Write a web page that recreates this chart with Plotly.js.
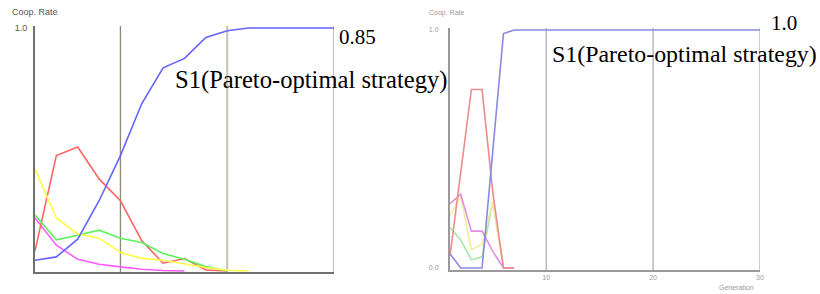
<!DOCTYPE html>
<html>
<head>
<meta charset="utf-8">
<script src="https://cdn.plot.ly/plotly-3.0.1.min.js"></script>
<style>html,body{margin:0;padding:0;background:#fff;}#chart{width:820px;height:294px;}</style>
</head>
<body>
<div id="chart"></div>
<script>
// ---- Left panel data (every 2 generations) ----
var gensLeft = [2,4,6,8,10,12,14,16,18,20,22,24,26,28,30];
var blueLeft    = [0.044,0.058,0.131,0.289,0.475,0.689,0.836,0.875,0.961,0.989,1.0,1.0,1.0,1.0,1.0];
var redLeft     = [0.083,0.475,0.510,0.379,0.289,0.124,0.032,0.051,0.004,0.0,null,null,null,null,null];
var yellowLeft  = [0.420,0.218,0.152,0.135,0.076,0.052,0.044,0.028,0.014,0.003,0.0,null,null,null,null];
var greenLeft   = [0.230,0.128,0.147,0.168,0.135,0.117,0.072,0.048,0.018,0.0,null,null,null,null,null];
var magentaLeft = [0.218,0.106,0.048,0.028,0.017,0.007,0.002,0.0,null,null,null,null,null,null,null];

// ---- Right panel data (every generation) ----
var gensRight = [];
for (var g = 1; g <= 30; g++) gensRight.push(g);
var blueRight    = [0.06,0.0,0.0,0.0,0.49,0.985,1,1,1,1,1,1,1,1,1,1,1,1,1,1,1,1,1,1,1,1,1,1,1,1];
var redRight     = [0.05,0.40,0.75,0.75,0.32,0.0,0.0].concat(Array(23).fill(null));
var magentaRight = [0.27,0.31,0.155,0.155,0.07,0.0,0.0].concat(Array(23).fill(null));
var yellowRight  = [0.22,0.30,0.076,0.10,0.28,0.0,0.0].concat(Array(23).fill(null));
var greenRight   = [0.17,0.118,0.034,0.047,0.28,0.0,0.0].concat(Array(23).fill(null));

// tick labels / texts
var yTickLeft = ['1.0'];
var yTickRight = ['0.0','1.0'];
var xTickRight = ['10','20','30'];
var yLabel = 'Coop. Rate';
var xLabel = 'Generation';
var finalLeft = '0.85';
var finalRight = '1.0';
var strategyLabel = 'S1(Pareto-optimal strategy)';

var W = 820, H = 294;
function px(x){ return x / W; }
function py(y){ return (H - y) / H; }

var colL = {blue:'#6464ff', red:'#ff6464', yellow:'#ffff44', green:'#5cf25c', magenta:'#ff5cff'};
var colR = {blue:'#8a8ae6', red:'#ec8c8c', yellow:'#f2eea0', green:'#a6e6a6', magenta:'#e68ce6'};

function tr(x, y, c, xa, ya){
  return {x:x, y:y, type:'scatter', mode:'lines', line:{color:c, width:1.6}, xaxis:xa, yaxis:ya, hoverinfo:'skip', connectgaps:false};
}

var data = [
  tr(gensLeft, magentaLeft, colL.magenta, 'x', 'y'),
  tr(gensLeft, redLeft, colL.red, 'x', 'y'),
  tr(gensLeft, greenLeft, colL.green, 'x', 'y'),
  tr(gensLeft, yellowLeft, colL.yellow, 'x', 'y'),
  tr(gensLeft, blueLeft, colL.blue, 'x', 'y'),
  tr(gensRight, greenRight, colR.green, 'x2', 'y2'),
  tr(gensRight, yellowRight, colR.yellow, 'x2', 'y2'),
  tr(gensRight, magentaRight, colR.magenta, 'x2', 'y2'),
  tr(gensRight, redRight, colR.red, 'x2', 'y2'),
  tr(gensRight, blueRight, colR.blue, 'x2', 'y2')
];

// gridlines from tick values
var gridLeft = [10,20,30];
var gridLeftCol = ['#8c8874','#c6c2b4','#c6c2b4'];
var gridLeftW = [1.3,2,2];
var gridRight = [10,20,30];
var shapes = [];
gridLeft.forEach(function(v,i){
  shapes.push({type:'line', xref:'x', yref:'y domain', x0:v, x1:v, y0:0, y1:1, line:{color:gridLeftCol[i], width:gridLeftW[i]}, layer:'below'});
});
gridRight.forEach(function(v){
  shapes.push({type:'line', xref:'x2', yref:'y2 domain', x0:v, x1:v, y0:0, y1:1, line:{color:'#aaaab4', width:1.2}, layer:'below'});
});

var small = {family:'Liberation Sans, Arial, sans-serif', size:9, color:'#555'};
var smallR = {family:'Liberation Sans, Arial, sans-serif', size:7, color:'#9a9a9a'};
var bigL = {family:'Liberation Serif, Times New Roman, serif', size:24.6, color:'#000'};
var bigR = {family:'Liberation Serif, Times New Roman, serif', size:23.9, color:'#000'};
var bigNum = {family:'Liberation Serif, Times New Roman, serif', size:21, color:'#000'};

var layout = {
  width:W, height:H, margin:{l:0,r:0,t:0,b:0},
  paper_bgcolor:'#fff', plot_bgcolor:'rgba(0,0,0,0)',
  showlegend:false,
  xaxis:{domain:[px(35), px(334)], range:[2,30], showgrid:false, zeroline:false, showline:true, linecolor:'#707070', linewidth:2, tickvals:[], showticklabels:false, layer:'below traces', fixedrange:true},
  yaxis:{domain:[0.075, 0.9114], range:[-0.004,1.008], showgrid:false, zeroline:false, showline:true, linecolor:'#707070', linewidth:2, tickvals:[1], ticktext:yTickLeft, tickfont:small, ticks:'', ticklabelstandoff:4, layer:'below traces', fixedrange:true},
  xaxis2:{domain:[px(450), px(760)], range:[1,30], anchor:'y2', showgrid:false, zeroline:false, showline:true, linecolor:'#9a9a9a', linewidth:2, tickvals:gridRight, ticktext:xTickRight, tickfont:smallR, ticks:'', layer:'below traces', fixedrange:true},
  yaxis2:{domain:[0.082, 0.9044], range:[-0.008,1.008], anchor:'x2', showgrid:false, zeroline:false, showline:true, linecolor:'#9a9a9a', linewidth:2, tickvals:[0,1], ticktext:yTickRight, tickfont:smallR, ticks:'', ticklabelstandoff:8, layer:'below traces', fixedrange:true},
  shapes:shapes,
  annotations:[
    {xref:'paper', yref:'paper', x:px(10), y:py(12), xanchor:'left', yanchor:'middle', text:yLabel, showarrow:false, font:small},
    {xref:'paper', yref:'paper', x:px(427), y:py(13), xanchor:'left', yanchor:'middle', text:yLabel, showarrow:false, font:smallR},
    {xref:'paper', yref:'paper', x:px(736), y:py(287), xanchor:'center', yanchor:'middle', text:xLabel, showarrow:false, font:smallR},
    {xref:'paper', yref:'paper', x:px(337), y:py(37), xanchor:'left', yanchor:'middle', text:finalLeft, showarrow:false, font:bigNum},
    {xref:'paper', yref:'paper', x:px(173), y:py(80), xanchor:'left', yanchor:'middle', text:strategyLabel, showarrow:false, font:bigL},
    {xref:'paper', yref:'paper', x:px(769), y:py(23), xanchor:'left', yanchor:'middle', text:finalRight, showarrow:false, font:bigNum},
    {xref:'paper', yref:'paper', x:px(550), y:py(54), xanchor:'left', yanchor:'middle', text:strategyLabel, showarrow:false, font:bigR}
  ]
};

Plotly.newPlot('chart', data, layout, {staticPlot:true, displayModeBar:false});
</script>
</body>
</html>
